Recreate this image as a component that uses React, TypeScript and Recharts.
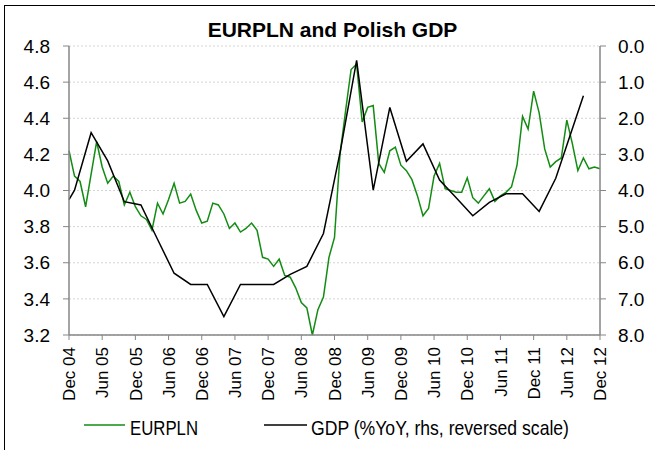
import { LineChart, Line, XAxis, YAxis, CartesianGrid, Legend } from "recharts";

const MONTHS = ["Jan", "Feb", "Mar", "Apr", "May", "Jun", "Jul", "Aug", "Sep", "Oct", "Nov", "Dec"];

// monthly EURPLN, Dec 04 .. Dec 12
const EURPLN = [
  4.22, 4.08, 4.05, 3.91, 4.09, 4.27, 4.13, 4.04, 4.08, 4.05,
  3.92, 3.99, 3.91, 3.86, 3.84, 3.78, 3.93, 3.87, 3.95, 4.04,
  3.93, 3.94, 3.98, 3.89, 3.82, 3.83, 3.93, 3.92, 3.87, 3.79,
  3.82, 3.77, 3.79, 3.82, 3.78, 3.63, 3.62, 3.58, 3.62, 3.53,
  3.52, 3.46, 3.38, 3.35, 3.2, 3.34, 3.41, 3.63, 3.74, 4.2,
  4.44, 4.67, 4.7, 4.38, 4.46, 4.47, 4.15, 4.1, 4.22, 4.24,
  4.14, 4.11, 4.06, 3.97, 3.86, 3.9, 4.08, 4.15, 4.01, 4.0,
  3.99, 3.99, 4.07, 3.96, 3.93, 3.97, 4.01, 3.94, 3.97, 3.99,
  4.02, 4.14, 4.41, 4.34, 4.55, 4.43, 4.23, 4.13, 4.16, 4.18,
  4.39, 4.26, 4.11, 4.18, 4.12, 4.13, 4.12,
];

// GDP %YoY (quarterly), placed at month index from Dec 04
const GDP_MONTH = [0, 1, 4, 7, 10, 13, 16, 19, 22, 25, 28, 31, 34, 37, 40, 43, 46, 49, 52, 55, 58, 61, 64, 67, 70, 73, 76, 79, 82, 85, 88, 93];
const GDP_YOY = [4.25, 3.99, 2.4, 3.18, 4.31, 4.4, 5.35, 6.29, 6.6, 6.6, 7.49, 6.6, 6.6, 6.6, 6.32, 6.1, 5.19, 2.95, 0.4, 3.99, 1.7, 3.19, 2.71, 3.71, 4.2, 4.7, 4.33, 4.09, 4.09, 4.58, 3.66, 1.38];

const LEFT_TICKS = [3.2, 3.4, 3.6, 3.8, 4.0, 4.2, 4.4, 4.6, 4.8];
const RIGHT_TICKS = [0, 1, 2, 3, 4, 5, 6, 7, 8];

const FONT = "'Liberation Sans', Arial, sans-serif";
const AXIS = "#868686";
const GREEN = "#128c12";

const monthLabel = (i: number) => {
  const t = 11 + i;
  return `${MONTHS[t % 12]} ${String(4 + Math.floor(t / 12)).padStart(2, "0")}`;
};

const data = EURPLN.map((v, i) => ({ month: monthLabel(i), eurpln: v, gdp: null as number | null }));
GDP_MONTH.forEach((m, k) => {
  data[m].gdp = GDP_YOY[k];
});

const DateTick = ({ x, y, payload }: any) => (
  <g transform={`translate(${x},${y})`}>
    <text transform="rotate(-90)" textAnchor="end" dy="0.36em" fontSize={17} fontFamily={FONT} fill="#000">
      {payload.value}
    </text>
  </g>
);

// the original legend uses a condensed face, squeeze it with textLength
const LegendBox = () => (
  <svg width={655} height={40}>
    <line x1={84} x2={125} y1={20} y2={20} stroke={GREEN} strokeWidth={1.5} />
    <text x={130} y={30} fontSize={21} fontFamily={FONT} fill="#000" textLength={68} lengthAdjust="spacingAndGlyphs">
      EURPLN
    </text>
    <line x1={264} x2={307} y1={20} y2={20} stroke="#000" strokeWidth={1.5} />
    <text x={311} y={30} fontSize={21} fontFamily={FONT} fill="#000" textLength={258} lengthAdjust="spacingAndGlyphs">
      GDP (%YoY, rhs, reversed scale)
    </text>
  </svg>
);

export default function App() {
  return (
    <div style={{ position: "fixed", left: 0, top: 0, width: 655, height: 450, background: "#fff" }}>
      <div
        style={{
          position: "fixed", left: 4, top: 5, width: 800, height: 600,
          borderLeft: "1px solid #000", borderTop: "1px solid #000", pointerEvents: "none",
        }}
      />
      <div
        style={{
          position: "absolute", left: 0, top: 20, width: 665, textAlign: "center",
          fontFamily: FONT, fontWeight: "bold", fontSize: 21, lineHeight: "20px",
        }}
      >
        EURPLN and Polish GDP
      </div>
      <LineChart width={655} height={450} data={data} margin={{ top: 46, right: 0, bottom: 0, left: 0 }}>
        <CartesianGrid yAxisId="left" vertical={false} stroke="#d4d4d4" strokeDasharray="2 2" />
        <XAxis
          dataKey="month"
          interval={5}
          height={115}
          tick={<DateTick />}
          tickSize={5}
          tickMargin={7}
          tickLine={{ stroke: AXIS }}
          axisLine={{ stroke: AXIS, strokeWidth: 1.5 }}
        />
        <YAxis
          yAxisId="left"
          width={69}
          domain={[3.2, 4.8]}
          ticks={LEFT_TICKS}
          tickFormatter={(v: number) => v.toFixed(1)}
          tick={{ fontSize: 19, fontFamily: FONT, fill: "#000" }}
          tickSize={6}
          tickMargin={13}
          tickLine={{ stroke: AXIS }}
          axisLine={{ stroke: AXIS, strokeWidth: 1.5 }}
        />
        <YAxis
          yAxisId="right"
          orientation="right"
          reversed
          width={55}
          domain={[0, 8]}
          ticks={RIGHT_TICKS}
          tickFormatter={(v: number) => v.toFixed(1)}
          tick={{ fontSize: 19, fontFamily: FONT, fill: "#000" }}
          tickSize={6}
          tickMargin={12}
          tickLine={{ stroke: AXIS }}
          axisLine={{ stroke: AXIS, strokeWidth: 1.5 }}
        />
        <Legend
          layout="horizontal"
          verticalAlign="middle"
          align="center"
          content={<LegendBox />}
          wrapperStyle={{ left: 0, top: 405, width: 655, height: 40 }}
        />
        <Line
          yAxisId="left"
          dataKey="eurpln"
          name="EURPLN"
          stroke={GREEN}
          strokeWidth={1.5}
          dot={false}
          isAnimationActive={false}
        />
        <Line
          yAxisId="right"
          dataKey="gdp"
          name="GDP (%YoY, rhs, reversed scale)"
          stroke="#000"
          strokeWidth={1.5}
          dot={false}
          connectNulls
          isAnimationActive={false}
        />
      </LineChart>
    </div>
  );
}
